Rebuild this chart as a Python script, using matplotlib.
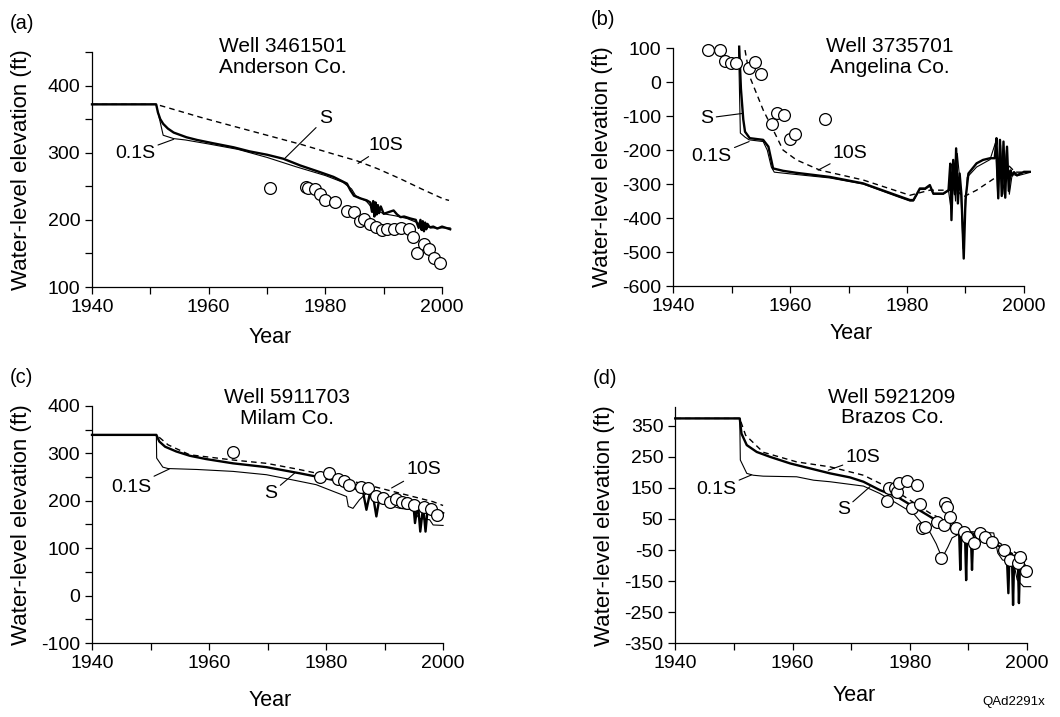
import matplotlib
matplotlib.use('Agg')
import matplotlib.pyplot as plt
from matplotlib.ticker import MultipleLocator, FixedLocator

plt.rcParams['font.family'] = ['Liberation Sans', 'DejaVu Sans']
plt.rcParams['axes.unicode_minus'] = False

# ---- (a) Well 3461501, Anderson Co. ----
a_s_yr = [1940, 1951, 1951.3, 1951.7, 1952.2, 1953, 1954, 1956.2, 1958, 1960.8, 1964.3, 1967,
          1970, 1972.8, 1975.7, 1979.1, 1981.4, 1983.7, 1984.3, 1984.9, 1986, 1987.1, 1987.7,
          1988.0, 1988.2, 1988.4, 1988.6, 1988.8, 1989.0, 1989.2, 1989.5, 1990, 1991, 1991.7,
          1992.3, 1992.9, 1993.5, 1994.6, 1995.5, 1996.0, 1996.3, 1996.5, 1996.7, 1996.9, 1997.1,
          1997.3, 1997.5, 1997.8, 1998, 1998.5, 1999.2, 2000, 2001.4]
a_s_val = [372, 372, 360, 350, 343, 336, 330, 323, 319, 314, 308, 302,
           297, 291, 281, 271, 264, 254, 244, 236, 232, 229, 226,
           212, 228, 205, 226, 208, 222, 210, 220, 209, 212, 214,
           208, 204, 205, 202, 200, 188, 200, 185, 198, 183, 196,
           186, 194, 190, 189, 190, 187, 190, 186]
a_01_yr = [1940, 1951, 1952.2, 1954, 1956, 1960, 1965, 1970, 1975, 1980, 1983, 1984.5, 1985.2,
           1987, 1988, 1990, 1992, 1994, 1996, 1998, 2001.4]
a_01_val = [372, 372, 326, 321, 319, 313, 305, 293, 279, 266, 256, 246, 236,
            228, 218, 209, 206, 202, 195, 188, 188]
a_10_yr = [1940, 1951, 1953, 1958.5, 1964, 1970, 1976, 1981.4, 1985.4, 1989, 1992.9, 1996.5,
           2000.3, 2001.2]
a_10_val = [372, 372, 367, 353, 340, 326, 312, 298, 288, 276, 261, 246, 231, 229]
a_obs_yr = [1970.5, 1976.6, 1977.1, 1978.3, 1979, 1980, 1981.7, 1983.7, 1984.9, 1985.9, 1986.7,
            1987.7, 1988.6, 1989.7, 1990.6, 1991.7, 1992.9, 1994.3, 1995, 1995.7, 1996.9, 1997.7,
            1998.7, 1999.7]
a_obs_val = [248, 249, 248, 246, 239, 229, 226, 213, 211, 198, 201, 194, 189, 185, 186, 186, 188,
             187, 175, 150, 164, 156, 143, 136]

# ---- (b) Well 3735701, Angelina Co. ----
b_s_yr = [1951.3, 1951.6, 1952.0, 1952.3, 1953.1, 1955.4, 1956.3, 1957.1, 1958.8, 1961.1, 1966.8,
          1972.5, 1978.2, 1980.5, 1981.1, 1982.2, 1983.1, 1983.9, 1984.5, 1986.2, 1987.1, 1987.4,
          1987.6, 1987.9, 1988.2, 1988.4, 1988.7, 1989.0, 1989.3, 1989.7, 1990.0, 1990.5, 1991.9,
          1993.0, 1994.2, 1995.0, 1995.3, 1995.6, 1995.9, 1996.2, 1996.5, 1996.8, 1997.1, 1997.4,
          1997.7, 1998.0, 1998.3, 1998.8, 2000, 2001]
b_s_val = [104, -20, -110, -146, -165, -170, -190, -254, -261, -267, -279,
           -298, -333, -347, -347, -313, -313, -303, -328, -328, -318, -240,
           -406, -229, -330, -195, -357, -269, -330, -519, -347, -269, -239,
           -229, -224, -224, -165, -342, -170, -335, -175, -340, -190, -320,
           -260, -275, -265, -274, -264, -264]
b_01_yr = [1951.2, 1951.5, 1952.3, 1953, 1955.4, 1956.1, 1956.8, 1957.3, 1960, 1966.8, 1972.5,
           1978.2, 1980.5, 1981.1, 1982.2, 1983.1, 1983.9, 1984.5, 1986.2, 1987.1, 1987.5, 1987.8,
           1988.3, 1988.6, 1989.2, 1989.6, 1990.3, 1991.9, 1994.2, 1995.1, 1995.5, 1996.0, 1996.4,
           1997.0, 1997.5, 1998.0, 1998.8, 2001]
b_01_val = [100, -150, -162, -170, -175, -200, -250, -265, -270, -282, -300,
            -336, -350, -350, -316, -316, -306, -330, -330, -320, -370, -230,
            -350, -210, -320, -490, -280, -250, -228, -180, -330, -185, -330,
            -200, -330, -270, -276, -266]
b_10_yr = [1952.3, 1953.1, 1955.4, 1957.7, 1958.8, 1961.1, 1965.1, 1972.5, 1980.5, 1983.9, 1988.5,
           1989.6, 1991.9, 1995.3, 1997, 1998.5, 2001]
b_10_val = [94, 16, -82, -161, -200, -229, -259, -288, -333, -318, -318, -338, -318, -279, -239,
            -265, -265]
b_obs_yr = [1946, 1948, 1948.8, 1949.9, 1950.7, 1952.9, 1954, 1955, 1956.9, 1957.8, 1958.9, 1960,
            1960.9, 1965.9]
b_obs_val = [93, 93, 63, 56, 56, 41, 58, 24, -123, -92, -97, -167, -153, -108]

# ---- (c) Well 5911703, Milam Co. ----
c_s_yr = [1940, 1951, 1951.5, 1952.5, 1954.4, 1956.7, 1959.5, 1964.1, 1969.8, 1975.5, 1981.2, 1984,
          1986.3, 1986.9, 1987.5, 1988.0, 1988.6, 1989.2, 1990.5, 1992.6, 1994.9, 1995.2, 1995.7,
          1996.1, 1996.6, 1997.0, 1997.4, 1998.3, 2000]
c_s_val = [339, 339, 325, 314, 304, 295, 288, 279, 271, 258, 244, 230,
           220, 181, 216, 212, 167, 212, 204, 202, 195, 153, 195,
           135, 188, 135, 188, 184, 174]
c_01_yr = [1940, 1951, 1951.05, 1952.1, 1953, 1958, 1964.1, 1969.8, 1974.3, 1978.3, 1981.2, 1983.5,
           1983.8, 1984.6, 1985.7, 1986.9, 1989.7, 1992.6, 1994.9, 1995.9, 1997.7, 1998.3, 2000]
c_01_val = [339, 339, 290, 271, 268, 266, 262, 255, 244, 234, 220, 209,
            188, 184, 202, 216, 195, 184, 181, 163, 160, 149, 148]
c_10_yr = [1940, 1951, 1953, 1956.7, 1964.1, 1969.8, 1975, 1981.2, 1986.9, 1992.6, 1998.3, 2000]
c_10_val = [339, 339, 318, 297, 286, 279, 267, 251, 234, 216, 198, 190]
c_obs_yr = [1964.1, 1979, 1980.5, 1982, 1983.1, 1984, 1986, 1987.1, 1988.6, 1989.7, 1990.9, 1991.9,
            1992.9, 1993.9, 1995, 1996.8, 1998, 1999]
c_obs_val = [302, 250, 258, 246, 242, 234, 230, 227, 211, 205, 198, 203, 198, 195, 191, 187, 183,
             170]

# ---- (d) Well 5921209, Brazos Co. ----
d_s_yr = [1940, 1951, 1951.3, 1952.2, 1953.9, 1956.2, 1959.6, 1963, 1966.4, 1969.8, 1972.1, 1974.9,
          1977.8, 1980.6, 1983.5, 1986.3, 1987.5, 1988.4, 1988.6, 1988.8, 1989.4, 1989.6, 1989.8,
          1990.4, 1990.6, 1990.8, 1992, 1994.9, 1996.5, 1996.8, 1997.0, 1997.4, 1997.6, 1997.8,
          1998.4, 1998.6, 1998.8, 2000, 2000.6]
d_s_val = [374, 374, 325, 288, 266, 250, 229, 213, 197, 184, 170, 143,
           122, 90, 57, 25, 18, 12, -114, 10, 5, -147, 5,
           0, -114, -2, -7, -34, -52, -189, -58, -62, -227, -68,
           -75, -221, -80, -109, -116]
d_01_yr = [1940, 1951, 1951.1, 1952.2, 1953.3, 1955, 1960.7, 1963.6, 1966.4, 1972.1, 1974.9, 1977.8,
           1980.6, 1982.3, 1983.5, 1984.5, 1985.5, 1986.5, 1987.2, 1989.2, 1992, 1994.3, 1995.0,
           1995.8, 1997.7, 1998.3, 1999.4, 2000.6]
d_01_val = [374, 374, 240, 197, 191, 188, 186, 175, 170, 156, 132, 100,
            68, 30, 5, -30, -76, -40, -11, 10, 8, 5, -60,
            -82, -90, -146, -168, -168]
d_10_yr = [1940, 1951, 1952, 1955, 1960.7, 1966.4, 1972.1, 1977.8, 1983.5, 1989.2, 1994.9, 1997.7,
           2000.6]
d_10_val = [374, 374, 320, 265, 234, 218, 191, 138, 68, 15, -23, -55, -87]
d_obs_yr = [1976.1, 1976.4, 1977.4, 1977.8, 1978.2, 1979.5, 1980.4, 1981.3, 1981.8, 1982.1, 1982.6,
            1984.6, 1985.3, 1985.8, 1986, 1986.3, 1986.8, 1987.8, 1989.2, 1989.7, 1990.9, 1992,
            1992.9, 1994, 1996, 1997.1, 1998.4, 1998.8, 1999.8]
d_obs_val = [109, 149, 149, 138, 167, 173, 84, 159, 98, 20, 25, 41, -77, 31, 100, 90, 57, 20, 9, -7,
             -28, 4, -7, -23, -50, -82, -93, -71, -119]

a_yticks = [100, 200, 300, 400]
b_yticks = [-600, -500, -400, -300, -200, -100, 0, 100]
c_yticks = [-100, 0, 100, 200, 300, 400]
d_yticks = [-350, -250, -150, -50, 50, 150, 250, 350]

panels = [
    dict(label='(a)', title='Well 3461501\nAnderson Co.', rect=[0.0868, 0.5997, 0.3302, 0.3278],
         ylim=(100, 450), yticks=a_yticks, minor=50, tpos=(0.546, 0.979), xlab_y=-0.17,
         s=(a_s_yr, a_s_val), s01=(a_01_yr, a_01_val), s10=(a_10_yr, a_10_val),
         obs=(a_obs_yr, a_obs_val),
         notes=[('S', (1980.0, 351), (1973.1, 292)),
                ('0.1S', (1947.4, 299), (1954.0, 320)),
                ('10S', (1990.4, 311), (1985.6, 284))]),
    dict(label='(b)', title='Well 3735701\nAngelina Co.', rect=[0.635, 0.601, 0.331, 0.332],
         ylim=(-600, 100), yticks=b_yticks, minor=None, tpos=(0.618, 0.962), xlab_y=-0.155,
         s=(b_s_yr, b_s_val), s01=(b_01_yr, b_01_val), s10=(b_10_yr, b_10_val),
         obs=(b_obs_yr, b_obs_val),
         notes=[('S', (1945.8, -106), (1952.0, -92)),
                ('0.1S', (1946.6, -220), (1953.0, -175)),
                ('10S', (1970.3, -209), (1964.8, -259))]),
    dict(label='(c)', title='Well 5911703\nMilam Co.', rect=[0.0868, 0.1032, 0.3312, 0.3306],
         ylim=(-100, 400), yticks=c_yticks, minor=50, tpos=(0.554, 0.992), xlab_y=-0.198,
         s=(c_s_yr, c_s_val), s01=(c_01_yr, c_01_val), s10=(c_10_yr, c_10_val),
         obs=(c_obs_yr, c_obs_val),
         notes=[('0.1S', (1946.7, 229), (1953.2, 267)),
                ('S', (1970.6, 216), (1974.6, 258)),
                ('10S', (1996.7, 265), (1991.2, 227))]),
    dict(label='(d)', title='Well 5921209\nBrazos Co.', rect=[0.637, 0.103, 0.332, 0.329],
         ylim=(-350, 410), yticks=d_yticks, minor=None, tpos=(0.616, 1.0), xlab_y=-0.178,
         s=(d_s_yr, d_s_val), s01=(d_01_yr, d_01_val), s10=(d_10_yr, d_10_val),
         obs=(d_obs_yr, d_obs_val),
         notes=[('10S', (1972.0, 247), (1966.1, 207)),
                ('0.1S', (1947.0, 144), (1953.0, 192)),
                ('S', (1968.7, 79), (1973.2, 154))]),
]

fig = plt.figure(figsize=(10.6, 7.17), dpi=100)

for p in panels:
    ax = fig.add_axes(p['rect'])

    # simulated water levels for three storage values
    ax.plot(*p['s01'], color='black', lw=0.8, clip_on=False, zorder=2)
    ax.plot(*p['s10'], color='black', lw=1.0, ls=(0, (4, 3)), clip_on=False, zorder=2)
    ax.plot(*p['s'], color='black', lw=1.7, clip_on=False, zorder=3)

    # measured water levels
    ax.plot(*p['obs'], ls='none', marker='o', ms=8.5, mfc='white', mec='black', mew=0.9,
            clip_on=False, zorder=4)

    for txt, tpos, xy in p['notes']:
        ax.annotate(txt, xy=xy, xytext=tpos, ha='center', va='center', fontsize=14,
                    arrowprops=dict(arrowstyle='-', lw=0.8, color='black', shrinkA=0, shrinkB=0))

    ax.set_xlim(1940, 2000)
    ax.set_ylim(*p['ylim'])
    ax.xaxis.set_major_locator(MultipleLocator(20))
    ax.xaxis.set_minor_locator(MultipleLocator(10))
    ax.yaxis.set_major_locator(FixedLocator(p['yticks']))
    if p['minor']:
        ax.yaxis.set_minor_locator(MultipleLocator(p['minor']))
    ax.tick_params(which='both', direction='out', length=5, width=0.9, labelsize=14)
    ax.spines['top'].set_visible(False)
    ax.spines['right'].set_visible(False)
    ax.spines['left'].set_linewidth(0.9)
    ax.spines['bottom'].set_linewidth(0.9)

    ax.set_xlabel('Year', fontsize=15.5)
    ax.set_ylabel('Water-level elevation (ft)', fontsize=16)
    ax.xaxis.set_label_coords(0.508, p['xlab_y'])
    ax.yaxis.set_label_coords(-0.172, 0.5)

    ax.text(p['tpos'][0], p['tpos'][1], p['title'], transform=ax.transAxes, ha='center',
            va='center', fontsize=15, linespacing=1.1)

    # panel letter sits above the axes, left of the y label
    bx = ax.get_position()
    fig.text(bx.x0 - 0.078, bx.y1 + 0.04, p['label'], fontsize=14.5, ha='left', va='center')

fig.text(0.986, 0.012, 'QAd2291x', fontsize=9.5, ha='right', va='bottom')

fig.savefig('out.png', dpi=100)
